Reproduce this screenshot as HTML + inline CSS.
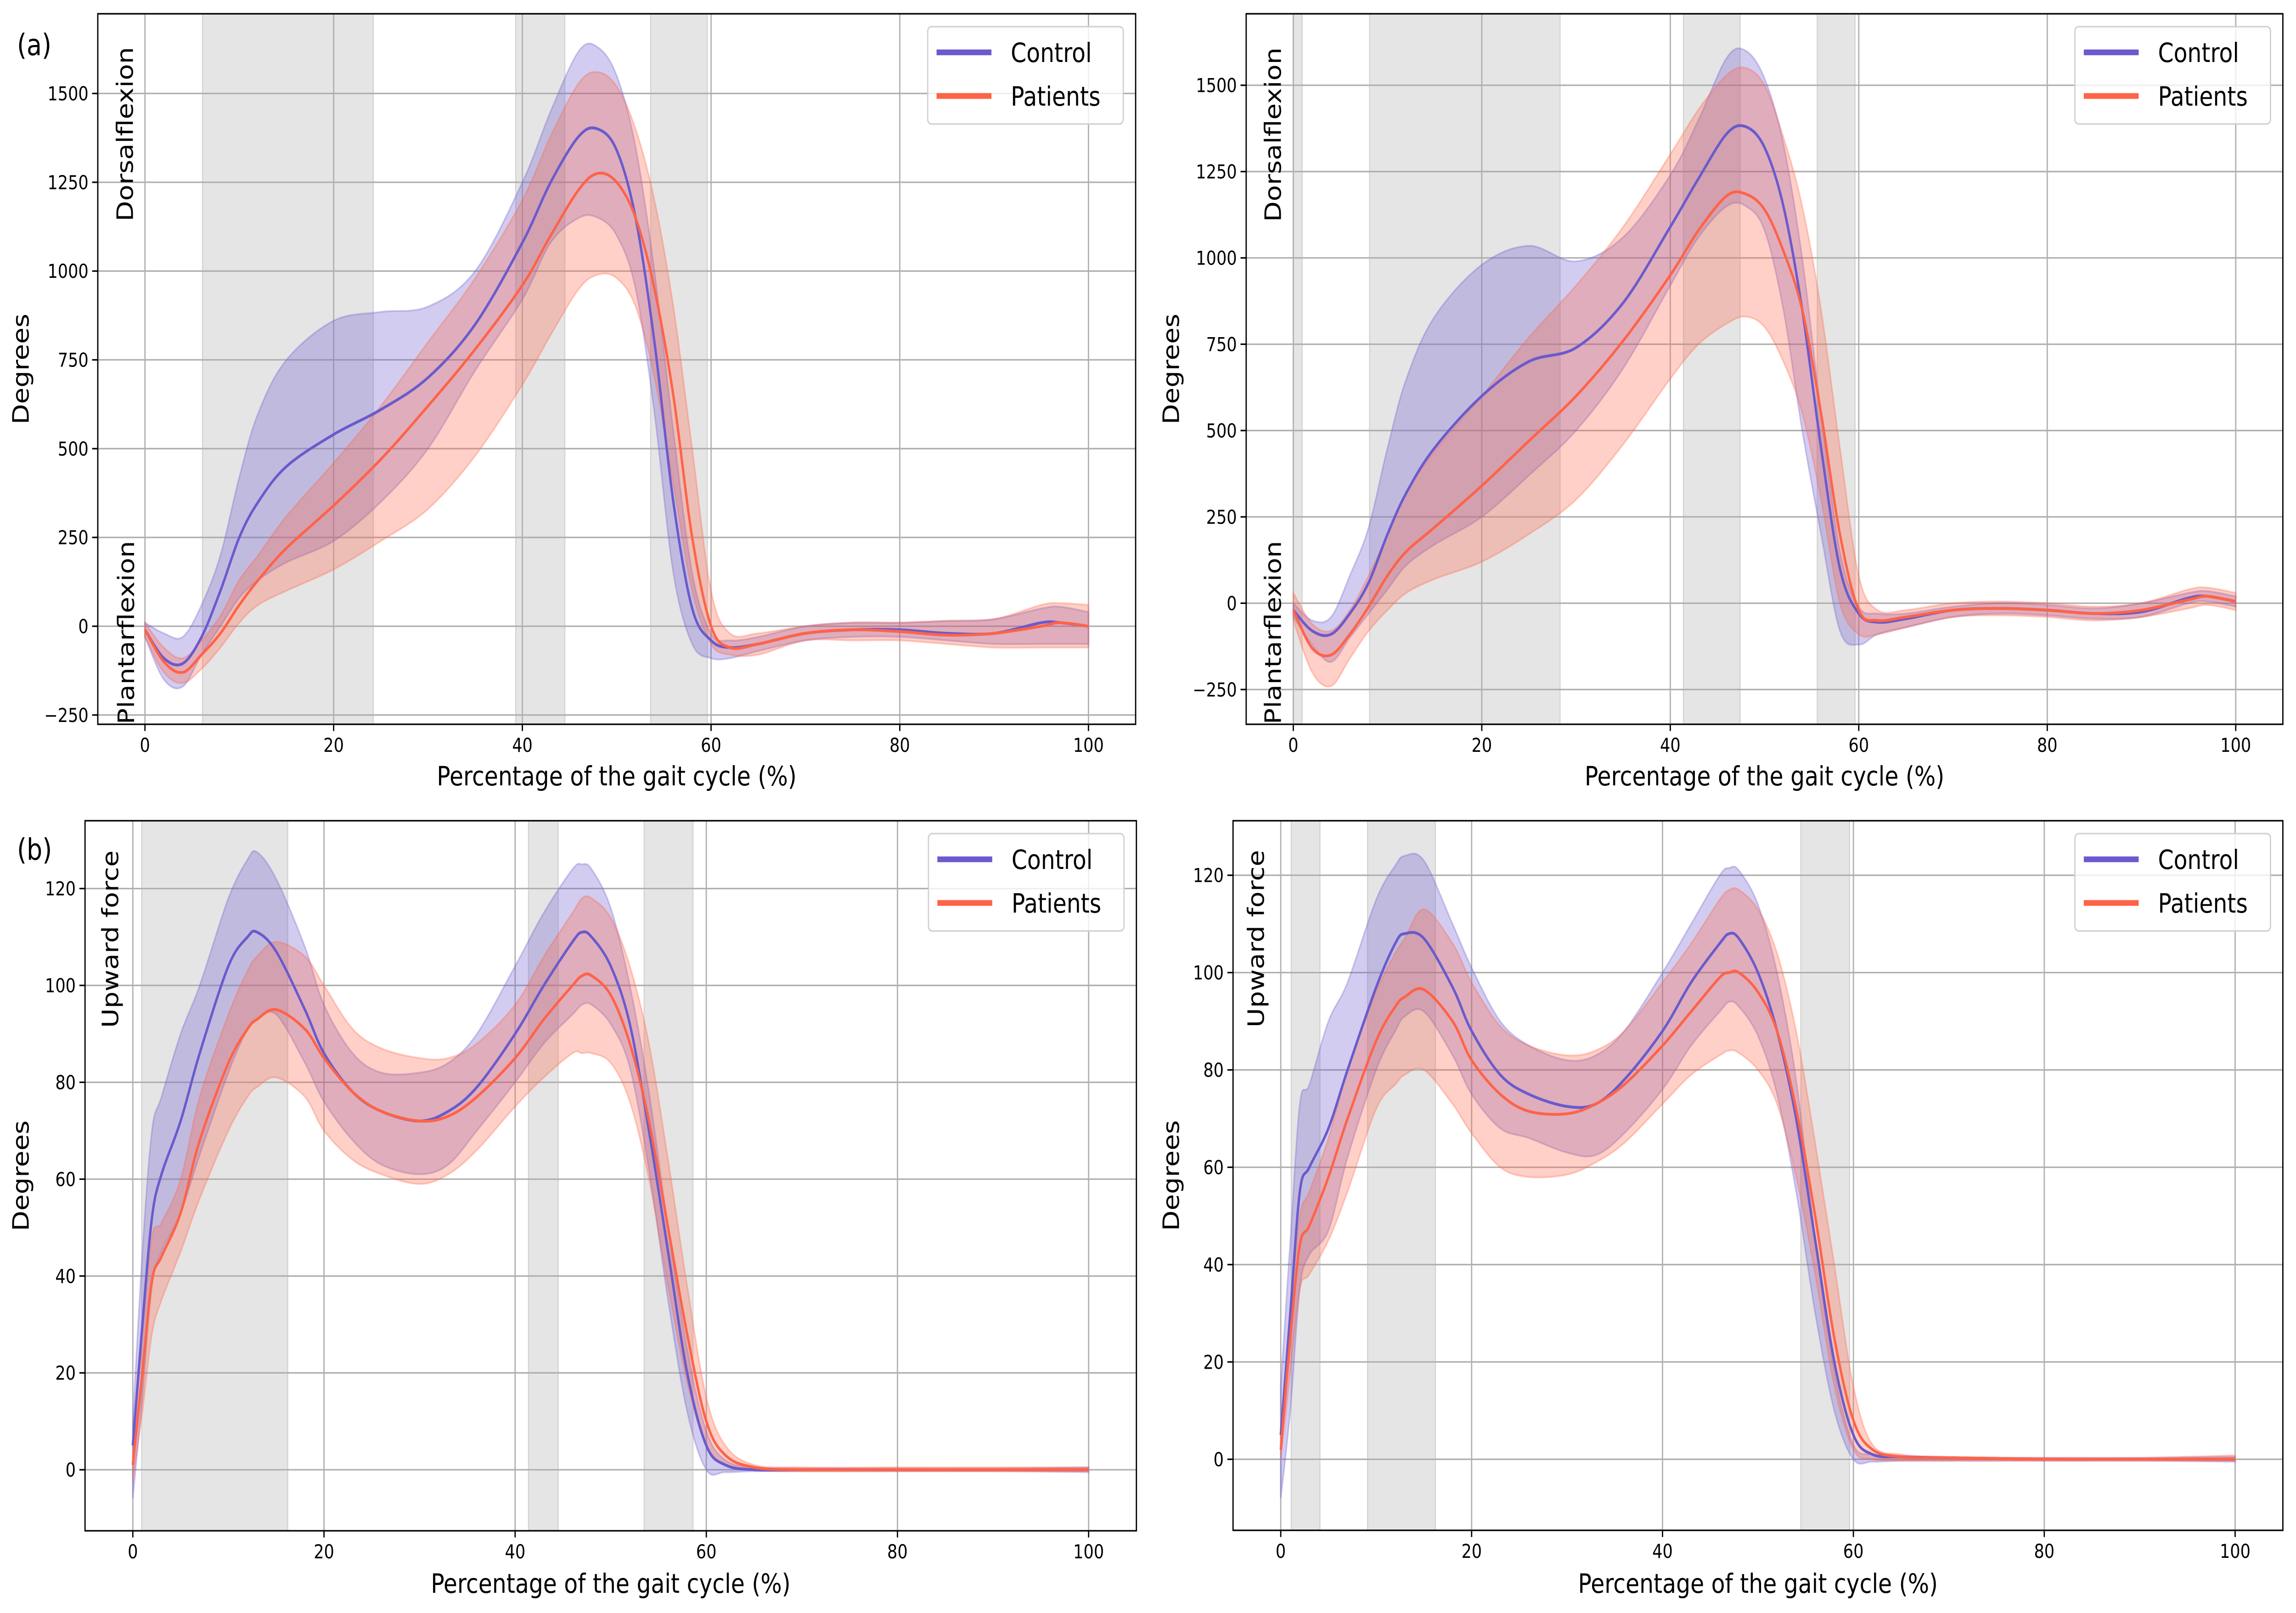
<!DOCTYPE html>
<html><head><meta charset="utf-8"><style>
html,body{margin:0;padding:0;background:#fff;width:100%;height:100%;overflow:hidden}
svg{display:block;width:100vw;height:100vh}
text{font-family:"DejaVu Sans","Liberation Sans",sans-serif;fill:#000}
</style></head><body>
<svg id="fig" xmlns="http://www.w3.org/2000/svg" viewBox="0 0 5940 3512" preserveAspectRatio="none"></svg>
<script>
// ===== Data: panel A1 (top-left, ankle angle) =====
const a1X = [0,2,4,6,8,10,12,15,20,25,30,35,40,43,46,48,50,52,54,56,58,60,62,65,70,75,80,85,90,95,97,100];
const a1CtrlMean = [-10,-90,-105,-30,100,250,350,450,540,610,700,850,1080,1250,1380,1400,1340,1150,800,350,50,-40,-60,-50,-20,-10,-10,-20,-20,10,10,0];
const a1CtrlUp = [10,-20,-30,60,200,420,600,750,860,885,900,1000,1250,1450,1620,1630,1550,1350,1000,550,150,-20,-40,-30,0,10,10,15,20,50,55,40];
const a1CtrlLo = [-30,-150,-170,-80,0,80,130,180,240,350,500,720,920,1080,1150,1150,1100,950,600,150,-50,-90,-90,-70,-40,-30,-30,-40,-50,-50,-50,-50];
const a1PatMean = [-10,-100,-130,-80,-20,60,130,220,340,470,620,780,960,1100,1230,1275,1250,1150,950,650,250,0,-60,-50,-20,-10,-15,-25,-20,0,10,0];
const a1PatUp = [10,-60,-90,-40,30,130,200,310,460,620,800,980,1200,1380,1530,1560,1520,1400,1200,900,500,100,-20,-20,0,10,10,15,20,60,65,60];
const a1PatLo = [-30,-130,-160,-120,-60,10,60,100,160,240,330,480,680,820,950,990,980,900,700,400,100,-50,-80,-80,-40,-40,-40,-50,-60,-60,-60,-60];
const a1Spans = [[6.1,24.2],[39.3,44.5],[53.6,59.6]];
// ===== Data: panel A2 (top-right) =====
const a2X = [0,2,4,6,8,10,12,15,20,25,30,35,40,43,46,48,50,52,54,56,58,60,62,65,70,75,80,85,90,95,97,100];
const a2CtrlMean = [-20,-80,-90,-30,60,200,320,450,600,700,740,870,1090,1230,1360,1380,1320,1150,850,450,100,-30,-55,-45,-20,-15,-20,-30,-25,15,20,5];
const a2CtrlUp = [0,-50,-40,80,220,450,650,830,980,1035,990,1060,1240,1400,1580,1600,1520,1330,1000,550,150,-10,-30,-30,-10,0,-5,-15,0,30,35,20];
const a2CtrlLo = [-40,-120,-170,-100,-30,40,110,170,250,370,500,680,920,1060,1150,1150,1080,850,500,200,-80,-120,-90,-70,-40,-30,-35,-45,-40,0,5,-10];
const a2PatMean = [-20,-130,-150,-90,-10,80,150,220,340,470,600,760,950,1080,1180,1185,1140,1020,850,550,200,-20,-50,-40,-20,-15,-20,-30,-20,10,20,5];
const a2PatUp = [30,-60,-80,-20,80,200,320,440,600,770,920,1090,1300,1430,1530,1550,1500,1350,1150,850,450,80,-20,-20,0,5,0,-10,0,40,45,30];
const a2PatLo = [-50,-200,-240,-160,-80,-20,30,70,120,200,300,460,650,750,810,830,800,700,550,300,0,-90,-90,-70,-40,-35,-40,-50,-40,-15,-5,-20];
const a2Spans = [[0,0.93],[8.1,28.3],[41.4,47.4],[55.6,59.6]];
// ===== Data: panel B1 (bottom-left, force) =====
const b1X = [0,1,2,3,5,7,10,12,13,15,18,20,23,26,30,33,36,40,43,46,47,48,50,52,54,56,58,60,62,65,70,80,90,100];
const b1CtrlMean = [5,30,52,61,72,86,104,110,111,107,95,86,78,74,72,74,79,90,100,109,111,110,104,92,70,45,20,5,1,0,0,0,0,0];
const b1CtrlUp = [10,45,70,77,90,100,118,126,127.5,122,108,96,86,82,82,84,90,104,115,124,125,124,116,100,78,50,25,8,2,0.5,0.3,0.3,0.3,0.5];
const b1CtrlLo = [-6,15,38,45,53,65,82,91,93,94,84,76,68,63,61,63,70,80,88,94,96,96,92,83,62,35,12,0,-0.5,-0.3,-0.3,-0.3,-0.3,-0.5];
const b1PatMean = [1,20,39,44,53,68,84,91,93,95,91,85,78,74,72,73,77,85,93,100,102,102,98,88,72,50,28,10,3,0.5,0,0,0,0];
const b1PatUp = [3,28,48,51,60,77,94,103,106,109,106,100,91,87,85,85,88,96,106,115,118,118,114,104,88,64,38,15,5,1,0.5,0.5,0.5,0.5];
const b1PatLo = [-2,12,28,35,45,56,70,77,79,81,77,70,64,61,59,61,66,75,81,86,86,86,84,76,60,38,18,5,1,0,-0.3,-0.3,-0.3,-0.3];
const b1Spans = [[0.93,16.2],[41.4,44.5],[53.5,58.6]];
// ===== Data: panel B2 (bottom-right) =====
const b2X = [0,1,2,3,5,7,10,12,13,15,18,20,23,26,30,33,36,40,43,46,47,48,50,52,54,56,58,60,62,65,70,80,90,100];
const b2CtrlMean = [5,30,55,60,68,80,97,106,108,107,97,88,79,75,72.5,73,78,88,98,106,108,107,100,88,70,45,20,5,1,0.5,0.3,0,0,0];
const b2CtrlUp = [15,45,73,77,90,98,115,122,124,123,110,101,90,85,82,83,88,100,110,120,121.5,121,114,100,78,45,18,3,1,0.5,0.3,0.3,0.3,0.5];
const b2CtrlLo = [-8,10,35,42,47,62,80,88,91,92,83,75,68,66,63,62.5,67,76,85,92,94,93,87,75,55,30,10,0,-0.5,-0.3,-0.3,-0.3,-0.3,-0.5];
const b2PatMean = [2,25,44,48,58,70,86,93,95,96.5,90,82,75,71.5,71,73,77,85,92,99,100,100,96,88,72,50,25,8,2,0.5,0.3,0,0,0];
const b2PatUp = [4,30,50,55,66,80,96,104,107,113,106,98,89,85,83,84,88,98,106,115,117,117,113,104,88,65,40,15,3,1,0.5,0.3,0.3,0.8];
const b2PatLo = [0,18,35,38,45,55,72,77,79,80,73,67,60,58,58.5,61,65,73,79,83,84,83.5,80,73,58,38,15,2,0,-0.3,-0.3,-0.3,-0.3,-0.3];
const b2Spans = [[1.1,4.1],[9.1,16.2],[54.5,59.6]];
// ===== Tick labels =====
const xTicks = [0,20,40,60,80,100];
const angleTicks = [-250,0,250,500,750,1000,1250,1500];
const forceTicks = [0,20,40,60,80,100,120];
const legendLabels = ['Control','Patients'];

const NS='http://www.w3.org/2000/svg';
const svg=document.getElementById('fig');
const CTRL='#6a5acd', PAT='#ff6347';
function mk(tag,attrs,parent){const e=document.createElementNS(NS,tag);for(const k in attrs)e.setAttribute(k,attrs[k]);(parent||svg).appendChild(e);return e;}
function smooth(pts){
  let d='M'+pts[0][0].toFixed(1)+','+pts[0][1].toFixed(1);
  for(let i=0;i<pts.length-1;i++){
    const p0=pts[Math.max(0,i-1)],p1=pts[i],p2=pts[i+1],p3=pts[Math.min(pts.length-1,i+2)];
    const c1x=p1[0]+(p2[0]-p0[0])/6,c1y=p1[1]+(p2[1]-p0[1])/6;
    const c2x=p2[0]-(p3[0]-p1[0])/6,c2y=p2[1]-(p3[1]-p1[1])/6;
    d+=' C'+c1x.toFixed(1)+','+c1y.toFixed(1)+' '+c2x.toFixed(1)+','+c2y.toFixed(1)+' '+p2[0].toFixed(1)+','+p2[1].toFixed(1);
  }
  return d;
}
function panel(c){
  const g=mk('g',{});
  
  
  const sx=v=>c.L+(v-(-5))/(110)*(c.R-c.L);
  const sy=v=>c.B-(v-c.ymin)/(c.ymax-c.ymin)*(c.B-c.T);
  c.spans.forEach(s=>{
    const r=mk('rect',{x:sx(s[0]),y:c.T,width:sx(s[1])-sx(s[0]),height:c.B-c.T,fill:'#e5e5e5',stroke:'#d4d4d4','stroke-width':3},g);
    
    
  });
  xTicks.forEach(t=>{const l=mk('line',{x1:sx(t),x2:sx(t),y1:c.T,y2:c.B,stroke:'#b0b0b0','stroke-width':3.3},g);});
  c.yticks.forEach(t=>{const l=mk('line',{x1:c.L,x2:c.R,y1:sy(t),y2:sy(t),stroke:'#b0b0b0','stroke-width':3.3},g);});
  function band(xs,up,lo,col,nm){
    const top=xs.map((x,i)=>[sx(x),sy(up[i])]);
    const bot=xs.map((x,i)=>[sx(x),sy(lo[i])]).reverse();
    const d=smooth(top)+' L'+smooth(bot).slice(1)+' Z';
    const p=mk('path',{d:d,fill:col,'fill-opacity':0.3,stroke:col,'stroke-opacity':0.3,'stroke-width':4},g);
    
    
  }
  band(c.x,c.cu,c.cl,CTRL,'control-sd-band');
  band(c.x,c.pu,c.pl,PAT,'patients-sd-band');
  function line(xs,ys,col,nm){
    const p=mk('path',{d:smooth(xs.map((x,i)=>[sx(x),sy(ys[i])])),fill:'none',stroke:col,'stroke-width':6.2,'stroke-linejoin':'round'},g);
    
    
  }
  line(c.x,c.cm,CTRL,'control-mean-line');
  line(c.x,c.pm,PAT,'patients-mean-line');
  const fr=mk('rect',{x:c.L,y:c.T,width:c.R-c.L,height:c.B-c.T,fill:'none',stroke:'#000','stroke-width':3.3},g);
  
  
  xTicks.forEach(t=>{
    mk('line',{x1:sx(t),x2:sx(t),y1:c.B,y2:c.B+14.6,stroke:'#000','stroke-width':3.3},g);
    const tx=mk('text',{x:sx(t),y:c.B+60,'font-size':41.7,'text-anchor':'middle'},g);
    tx.textContent=t;
    
    
  });
  c.yticks.forEach(t=>{
    mk('line',{x1:c.L-14.6,x2:c.L,y1:sy(t),y2:sy(t),stroke:'#000','stroke-width':3.3},g);
    const tx=mk('text',{x:c.L-24,y:sy(t)+15,'font-size':41.7,'text-anchor':'end'},g);
    tx.textContent=String(t).replace('-','\u2212');
    
    
  });
  const xl=mk('text',{x:(c.L+c.R)/2,y:c.xlabY,'font-size':58,'text-anchor':'middle'},g);
  xl.textContent='Percentage of the gait cycle (%)';
  
  
  const yl=mk('text',{x:0,y:0,'font-size':58,'text-anchor':'middle',transform:'translate('+c.ylabX+','+((c.T+c.B)/2)+') rotate(-90)'},g);
  yl.textContent='Degrees';
  
  
  c.notes.forEach(n=>{
    const t=mk('text',{x:0,y:0,'font-size':58,'text-anchor':'start',transform:'translate('+n[1]+','+n[2]+') rotate(-90)'},g);
    t.textContent=n[0];
    
    
  });
  const lx=c.R-32-506, ly=c.T+28;
  const lg=mk('g',{},g);
  
  
  mk('rect',{x:lx,y:ly,width:506,height:212,rx:10,fill:'#fff','fill-opacity':0.8,stroke:'#d0d0d0','stroke-width':3.3},lg);
  [[CTRL,56],[PAT,151]].forEach((e,i)=>{
    const h=mk('line',{x1:lx+23,x2:lx+165,y1:ly+e[1],y2:ly+e[1],stroke:e[0],'stroke-width':12.5},lg);
    
    
    const t=mk('text',{x:lx+215,y:ly+e[1]+21,'font-size':58},lg);
    t.textContent=legendLabels[i];
    
    
  });
}
panel({name:'panel-a-left',L:253,R:2938,T:30,B:1577,ymin:-276.1,ymax:1724.4,yticks:angleTicks,spans:a1Spans,
  x:a1X,cm:a1CtrlMean,cu:a1CtrlUp,cl:a1CtrlLo,pm:a1PatMean,pu:a1PatUp,pl:a1PatLo,xlabY:1710,ylabX:74,
  notes:[['Dorsalflexion',344,482],['Plantarflexion',347,1577]]});
panel({name:'panel-a-right',L:3224,R:5906,T:30,B:1577,ymin:-350.7,ymax:1707,yticks:angleTicks,spans:a2Spans,
  x:a2X,cm:a2CtrlMean,cu:a2CtrlUp,cl:a2CtrlLo,pm:a2PatMean,pu:a2PatUp,pl:a2PatLo,xlabY:1710,ylabX:3050,
  notes:[['Dorsalflexion',3314,483],['Plantarflexion',3314,1577]]});
panel({name:'panel-b-left',L:220,R:2940,T:1787,B:3333,ymin:-12.6,ymax:134,yticks:forceTicks,spans:b1Spans,
  x:b1X,cm:b1CtrlMean,cu:b1CtrlUp,cl:b1CtrlLo,pm:b1PatMean,pu:b1PatUp,pl:b1PatLo,xlabY:3468,ylabX:74,
  notes:[['Upward force',306,2238]]});
panel({name:'panel-b-right',L:3190,R:5906,T:1787,B:3332,ymin:-14.6,ymax:131.2,yticks:forceTicks,spans:b2Spans,
  x:b2X,cm:b2CtrlMean,cu:b2CtrlUp,cl:b2CtrlLo,pm:b2PatMean,pu:b2PatUp,pl:b2PatLo,xlabY:3468,ylabX:3050,
  notes:[['Upward force',3270,2237]]});
const la=mk('text',{x:44,y:120,'font-size':64});
la.textContent='(a)';


const lb=mk('text',{x:44,y:1872,'font-size':64});
lb.textContent='(b)';


</script>
</body></html>
